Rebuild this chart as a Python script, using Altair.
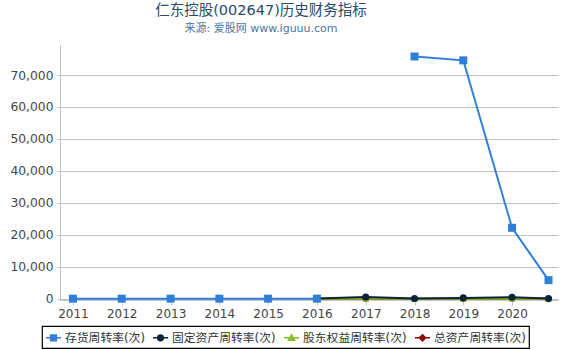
import altair as alt
import pandas as pd

# ---- data ----
periods = ["2011-01-01", "2012-01-01", "2013-01-01", "2014-01-01", "2015-01-01",
           "2016-01-01", "2017-01-01", "2018-01-01", "2019-01-01", "2020-01-01",
           "2020-09-30"]
series_names = ["存货周转率(次)", "固定资产周转率(次)", "股东权益周转率(次)", "总资产周转率(次)"]
inventory_turnover = [12.0, 15.0, 18.0, 14.0, 16.0, 20.0, None, 75800.0, 74600.0, 22200.0, 5800.0]
fixed_asset_turnover = [None, None, None, None, None, 60.0, 500.0, 60.0, 260.0, 480.0, 40.0]
equity_turnover = [None, None, None, None, None, 1.2, 3.5, 2.8, 2.1, 1.9, 0.8]
total_asset_turnover = [None, None, None, None, None, 0.6, 1.1, 0.9, 0.8, 0.7, 0.3]
colors = ["#2f7ed8", "#0d233a", "#8bbc21", "#910000"]
marker_shapes = ["square", "circle", "triangle-up", "diamond"]
y_ticks = [0, 10000, 20000, 30000, 40000, 50000, 60000, 70000]
x_tick_years = list(range(2011, 2021))

columns = [inventory_turnover, fixed_asset_turnover, equity_turnover, total_asset_turnover]
rows = []
for name, vals in zip(series_names, columns):
    for p, v in zip(periods, vals):
        rows.append({"date": p, "series": name, "value": v})
df = pd.DataFrame(rows)

FONT = "DejaVu Sans, Noto Sans CJK SC, sans-serif"

x_enc = alt.X(
    "date:T",
    scale=alt.Scale(type="utc",
                    domain=[alt.DateTime(year=2010, month=9, date=26, utc=True),
                            alt.DateTime(year=2020, month=12, date=10, utc=True)]),
    axis=alt.Axis(values=[alt.DateTime(year=y, month=1, date=1, utc=True) for y in x_tick_years],
                  format="%Y", title=None, grid=False, labelColor="#444", labelFontSize=12,
                  labelFont=FONT, tickColor="#C0C8D0", tickSize=5, domainColor="#C0C8D0",
                  labelPadding=3, labelFlush=False),
)
y_enc = alt.Y(
    "value:Q",
    scale=alt.Scale(domain=[-400, 79400], nice=False, zero=False),
    axis=alt.Axis(values=y_ticks, format=",d", title=None, grid=True, gridColor="#C0C0C0",
                  labelColor="#444", labelFontSize=12.3, labelFont=FONT, tickColor="#C0C0C0",
                  tickSize=3, domainColor="#C0C0C0", labelPadding=4),
)

base = alt.Chart(df)

layers = []
for name, col in reversed(list(zip(series_names, colors))):
    layers.append(
        base.transform_filter(alt.datum.series == name)
        .mark_line(strokeWidth=2, color=col, invalid="break-paths-filter-domains")
        .encode(x=x_enc, y=y_enc)
    )
for name, col, shp in reversed(list(zip(series_names, colors, marker_shapes))):
    size = 64 if shp == "square" else 50
    layers.append(
        base.transform_filter(alt.datum.series == name)
        .transform_filter("isValid(datum.value)")
        .mark_point(filled=True, shape=shp, size=size, opacity=1, color=col)
        .encode(x=x_enc, y=y_enc)
    )

# legend-only layer (transparent marks)
legend_paths = [
    "M-1,0L1,0M-0.38,-0.38L0.38,-0.38L0.38,0.38L-0.38,0.38Z",
    "M-1,0L1,0M-0.38,0A0.38,0.38,0,1,0,0.38,0A0.38,0.38,0,1,0,-0.38,0Z",
    "M-1,0L1,0M0,-0.42L0.42,0.32L-0.42,0.32Z",
    "M-1,0L1,0M0,-0.42L0.42,0L0,0.42L-0.42,0Z",
]
legend_layer = (
    base.transform_filter("isValid(datum.value)")
    .mark_point(filled=True, opacity=0)
    .encode(
        x=x_enc, y=y_enc,
        color=alt.Color("series:N", scale=alt.Scale(domain=series_names, range=colors),
                        legend=alt.Legend(title=None)),
        stroke=alt.Stroke("series:N", scale=alt.Scale(domain=series_names, range=colors),
                          legend=alt.Legend(title=None)),
        shape=alt.Shape("series:N", scale=alt.Scale(domain=series_names, range=legend_paths),
                        legend=alt.Legend(title=None)),
    )
)
layers.append(legend_layer)

chart = (
    alt.layer(*layers)
    .properties(
        width=498, height=255,
        title=alt.TitleParams(
            text="仁东控股(002647)历史财务指标",
            subtitle="来源: 爱股网 www.iguuu.com",
            anchor="middle", dx=-48, offset=10,
            font=FONT, fontSize=14.5, fontWeight="normal", color="#274b6d",
            subtitleFont=FONT, subtitleFontSize=11, subtitleColor="#4d759e",
            subtitlePadding=5,
        ),
        autosize=alt.AutoSizeParams(type="none"),
        padding={"left": 60, "top": 45, "right": 12, "bottom": 50},
    )
    .configure_view(stroke=None)
    .configure_legend(
        orient="none", legendX=-18, legendY=281, direction="horizontal", columns=4,
        strokeColor="#000", strokeWidth=1.2, padding=3, cornerRadius=0,
        labelFont=FONT, labelFontSize=11.8, labelColor="#333", labelOffset=3,
        symbolSize=225, symbolStrokeWidth=1.5, columnPadding=5, symbolOpacity=1,
    )
)

chart.save("out.html", embed_options={"renderer": "svg", "actions": False})
